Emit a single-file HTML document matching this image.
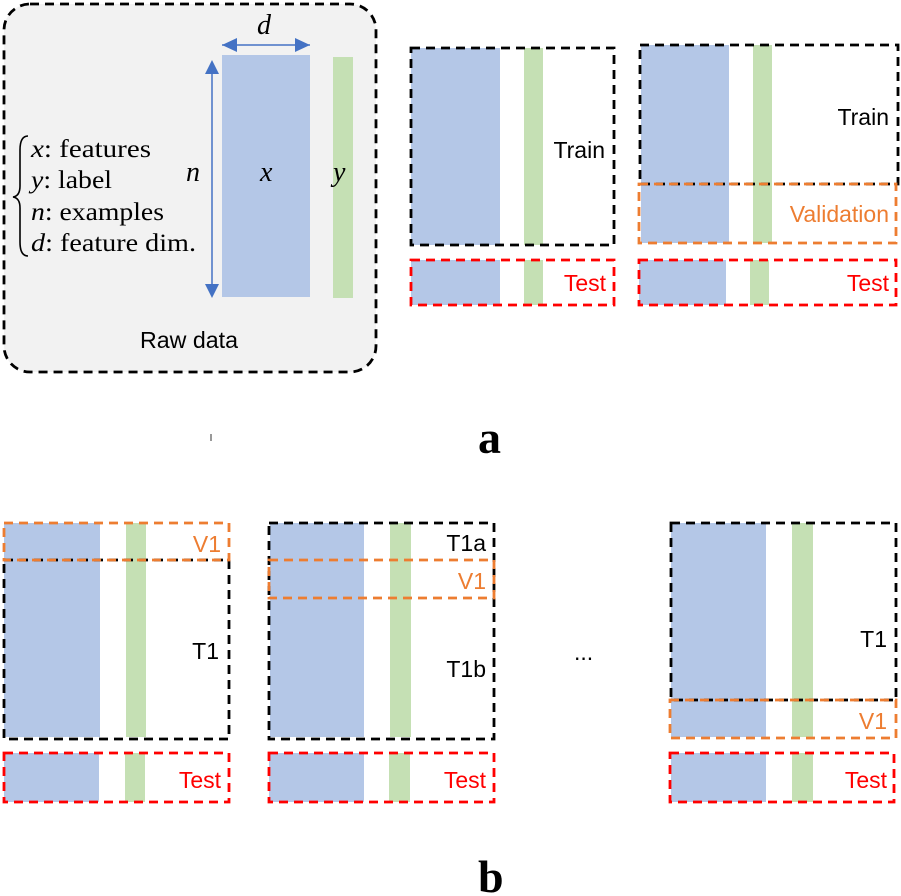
<!DOCTYPE html>
<html><head><meta charset="utf-8"><style>
html,body{margin:0;padding:0;background:#fff;}
svg{display:block;}
.s{font-family:"Liberation Sans",sans-serif;font-size:23px;}
.m{font-family:"Liberation Serif",serif;font-style:italic;font-size:28px;}
.l{font-family:"Liberation Serif",serif;font-size:25px;}
</style></head><body>
<svg width="901" height="896" viewBox="0 0 901 896" xmlns="http://www.w3.org/2000/svg">
<!-- Raw data -->
<rect x="4" y="4" width="372" height="368" rx="26" fill="#f2f2f2" stroke="#000" stroke-width="2.8" stroke-dasharray="9,6"/>
<rect x="222" y="55" width="88" height="242" fill="#b4c7e7"/>
<rect x="333" y="57" width="20" height="241" fill="#c5e0b4"/>
<line x1="222" y1="45" x2="310" y2="45" stroke="#4472c4" stroke-width="1.5"/>
<path d="M222,45 L237,38 L237,52 z M310,45 L295,38 L295,52 z" fill="#4472c4"/>
<line x1="212" y1="62" x2="212" y2="296" stroke="#4472c4" stroke-width="1.5"/>
<path d="M212,60 L205,74 L219,74 z M212,298 L205,284 L219,284 z" fill="#4472c4"/>
<text class="m" x="257" y="34">d</text>
<text class="m" x="186" y="181">n</text>
<text class="m" x="260" y="181">x</text>
<text class="m" x="333" y="181">y</text>
<path d="M28,136 Q20,136 20,150 L20,186 Q20,196 13,197 Q20,198 20,208 L20,242 Q20,256 28,256" fill="none" stroke="#000" stroke-width="1.6"/>
<text class="l" x="31" y="157" textLength="120" lengthAdjust="spacingAndGlyphs"><tspan font-style="italic">x</tspan>: features</text>
<text class="l" x="31" y="188" textLength="81" lengthAdjust="spacingAndGlyphs"><tspan font-style="italic">y</tspan>: label</text>
<text class="l" x="31" y="220" textLength="133" lengthAdjust="spacingAndGlyphs"><tspan font-style="italic">n</tspan>: examples</text>
<text class="l" x="31" y="251" textLength="165" lengthAdjust="spacingAndGlyphs"><tspan font-style="italic">d</tspan>: feature dim.</text>
<text class="s" x="140" y="348" font-size="22" textLength="98" lengthAdjust="spacingAndGlyphs">Raw data</text>

<!-- a panel 1 -->
<rect x="411" y="48" width="89" height="197" fill="#b4c7e7"/>
<rect x="524" y="48" width="19" height="197" fill="#c5e0b4"/>
<rect x="411" y="48" width="203" height="197" fill="none" stroke="#000" stroke-width="2.8" stroke-dasharray="9,6"/>
<text class="s" x="605" y="158" text-anchor="end">Train</text>
<rect x="411" y="260" width="89" height="45" fill="#b4c7e7"/>
<rect x="524" y="260" width="19" height="45" fill="#c5e0b4"/>
<rect x="411" y="260" width="203" height="45" fill="none" stroke="#f00" stroke-width="2.8" stroke-dasharray="9,6"/>
<text class="s" x="606" y="291" text-anchor="end" fill="#f00">Test</text>

<!-- a panel 2 -->
<rect x="641" y="45" width="88" height="198" fill="#b4c7e7"/>
<rect x="753" y="45" width="19" height="198" fill="#c5e0b4"/>
<rect x="640" y="45" width="258" height="139" fill="none" stroke="#000" stroke-width="2.8" stroke-dasharray="9,6"/>
<rect x="639" y="184" width="257" height="59" fill="none" stroke="#ed7d31" stroke-width="2.8" stroke-dasharray="9,6"/>
<text class="s" x="889" y="125" text-anchor="end">Train</text>
<text class="s" x="889" y="222" text-anchor="end" fill="#ed7d31">Validation</text>
<rect x="639" y="260" width="87" height="45" fill="#b4c7e7"/>
<rect x="750" y="260" width="19" height="45" fill="#c5e0b4"/>
<rect x="639" y="260" width="257" height="45" fill="none" stroke="#f00" stroke-width="2.8" stroke-dasharray="9,6"/>
<text class="s" x="889" y="291" text-anchor="end" fill="#f00">Test</text>

<text x="478" y="453" font-family="Liberation Serif,serif" font-weight="bold" font-size="46">a</text>
<rect x="210" y="434" width="2" height="7" fill="#999"/>

<!-- b panel 1 -->
<rect x="4" y="523" width="96" height="214" fill="#b4c7e7"/>
<rect x="126" y="523" width="20" height="214" fill="#c5e0b4"/>
<rect x="4" y="560" width="225" height="179" fill="none" stroke="#000" stroke-width="2.8" stroke-dasharray="9,6"/>
<rect x="4" y="523" width="225" height="37" fill="none" stroke="#ed7d31" stroke-width="2.8" stroke-dasharray="9,6"/>
<text class="s" x="221" y="552" text-anchor="end" fill="#ed7d31">V1</text>
<text class="s" x="219" y="659" text-anchor="end">T1</text>
<rect x="4" y="753" width="95" height="49" fill="#b4c7e7"/>
<rect x="125" y="753" width="20" height="49" fill="#c5e0b4"/>
<rect x="4" y="753" width="225" height="49" fill="none" stroke="#f00" stroke-width="2.8" stroke-dasharray="9,6"/>
<text class="s" x="221" y="788" text-anchor="end" fill="#f00">Test</text>

<!-- b panel 2 -->
<rect x="270" y="523" width="94" height="214" fill="#b4c7e7"/>
<rect x="390" y="523" width="21" height="214" fill="#c5e0b4"/>
<rect x="269" y="523" width="225" height="216" fill="none" stroke="#000" stroke-width="2.8" stroke-dasharray="9,6"/>
<rect x="269" y="560" width="225" height="38" fill="none" stroke="#ed7d31" stroke-width="2.8" stroke-dasharray="9,6"/>
<text class="s" x="486" y="551" text-anchor="end">T1a</text>
<text class="s" x="486" y="589" text-anchor="end" fill="#ed7d31">V1</text>
<text class="s" x="486" y="677" text-anchor="end">T1b</text>
<rect x="269" y="753" width="95" height="49" fill="#b4c7e7"/>
<rect x="389" y="753" width="21" height="49" fill="#c5e0b4"/>
<rect x="269" y="753" width="225" height="49" fill="none" stroke="#f00" stroke-width="2.8" stroke-dasharray="9,6"/>
<text class="s" x="486" y="788" text-anchor="end" fill="#f00">Test</text>

<!-- dots -->
<text class="s" x="574" y="660" font-size="18">...</text>

<!-- b panel 3 -->
<rect x="671" y="523" width="95" height="214" fill="#b4c7e7"/>
<rect x="792" y="523" width="21" height="214" fill="#c5e0b4"/>
<rect x="671" y="523" width="225" height="177" fill="none" stroke="#000" stroke-width="2.8" stroke-dasharray="9,6"/>
<rect x="670" y="700" width="226" height="38" fill="none" stroke="#ed7d31" stroke-width="2.8" stroke-dasharray="9,6"/>
<text class="s" x="887" y="647" text-anchor="end">T1</text>
<text class="s" x="887" y="729" text-anchor="end" fill="#ed7d31">V1</text>
<rect x="671" y="753" width="95" height="49" fill="#b4c7e7"/>
<rect x="792" y="753" width="21" height="49" fill="#c5e0b4"/>
<rect x="670" y="753" width="224" height="49" fill="none" stroke="#f00" stroke-width="2.8" stroke-dasharray="9,6"/>
<text class="s" x="887" y="788" text-anchor="end" fill="#f00">Test</text>

<text x="478" y="892" font-family="Liberation Serif,serif" font-weight="bold" font-size="46">b</text>
</svg>
</body></html>
